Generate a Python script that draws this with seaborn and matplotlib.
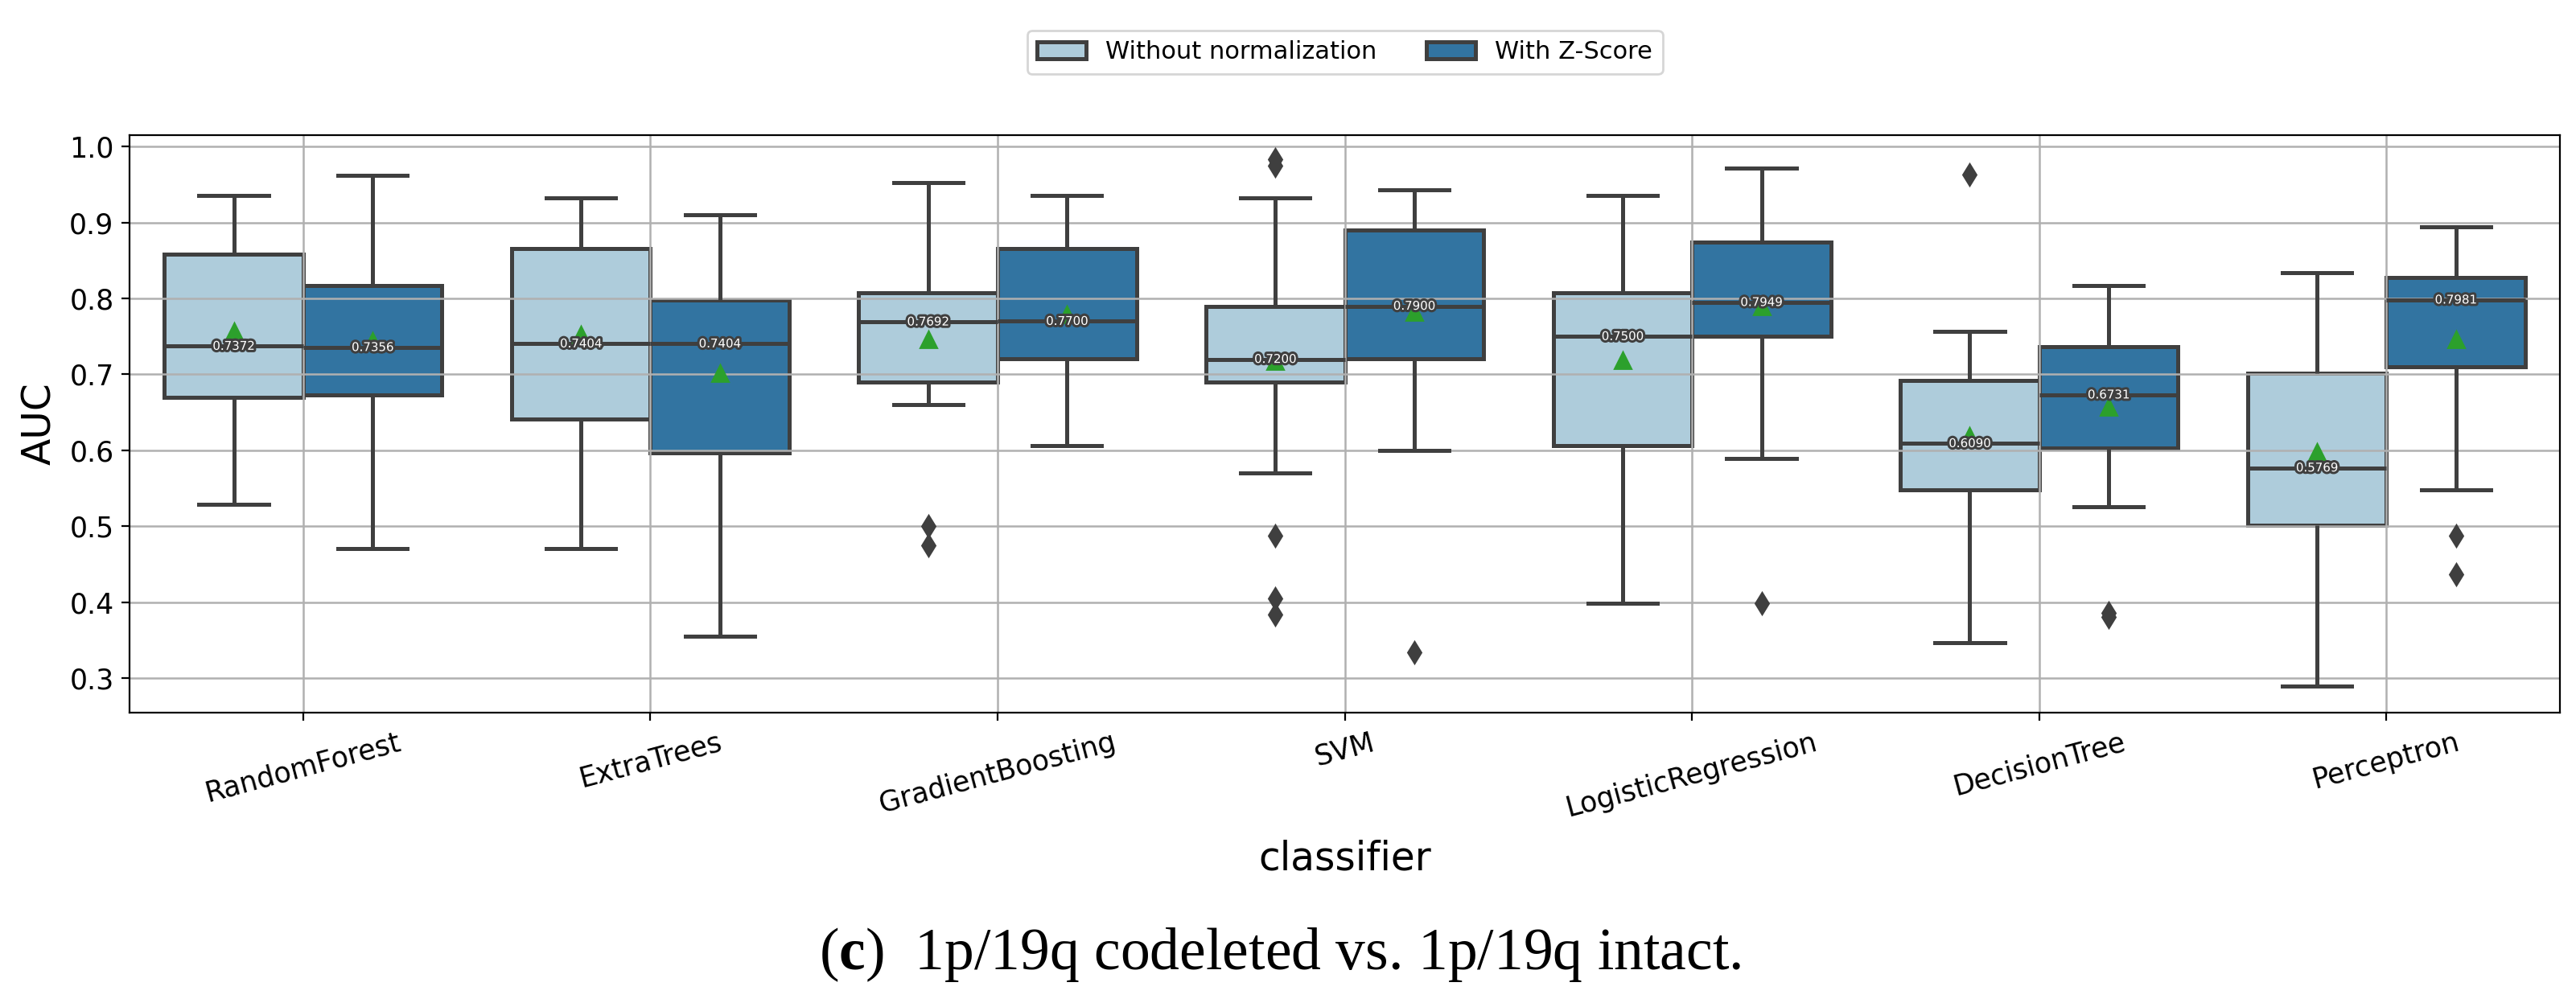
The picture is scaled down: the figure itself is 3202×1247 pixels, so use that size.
import pandas as pd
import seaborn as sns
import matplotlib.pyplot as plt
import matplotlib.patheffects as pe

# classificadores e normalizacoes
classifiers = ["RandomForest", "ExtraTrees", "GradientBoosting", "SVM",
               "LogisticRegression", "DecisionTree", "Perceptron"]
norms = ["Without normalization", "With Z-Score"]

# AUC por execucao
rf_raw = [0.529, 0.62, 0.66, 0.670, 0.70, 0.73, 0.7372, 0.79, 0.84, 0.8585, 0.87, 0.8938, 0.936]
rf_zs = [0.471, 0.58, 0.65, 0.673, 0.70, 0.72, 0.7356, 0.76, 0.79, 0.8172, 0.88, 0.9332, 0.962]
et_raw = [0.471, 0.60, 0.635, 0.641, 0.70, 0.73, 0.7404, 0.82, 0.86, 0.866, 0.88, 0.90, 0.9326]
et_zs = [0.3555, 0.52, 0.58, 0.5965, 0.66, 0.71, 0.7404, 0.76, 0.78, 0.7975, 0.84, 0.8735, 0.910]
gb_raw = [0.4751, 0.5004, 0.6605, 0.690, 0.74, 0.76, 0.7692, 0.78, 0.80, 0.808, 0.85, 0.9066, 0.953]
gb_zs = [0.6066, 0.66, 0.70, 0.7211, 0.74, 0.76, 0.7700, 0.79, 0.8173, 0.866, 0.87, 0.89, 0.936]
svm_raw = [0.384, 0.4052, 0.4878, 0.5703, 0.690, 0.70, 0.705, 0.715, 0.720,
           0.74, 0.76, 0.78, 0.790, 0.8511, 0.9326, 0.975, 0.983]
svm_zs = [0.3336, 0.600, 0.72, 0.7211, 0.78, 0.788, 0.790, 0.87, 0.885, 0.890, 0.92, 0.9256, 0.9427]
lr_raw = [0.3985, 0.55, 0.60, 0.6066, 0.70, 0.74, 0.750, 0.78, 0.80, 0.808, 0.82, 0.8527, 0.936]
lr_zs = [0.3985, 0.5897, 0.74, 0.7506, 0.77, 0.785, 0.7949, 0.83, 0.86, 0.8745, 0.93, 0.9624, 0.9714]
dt_raw = [0.3471, 0.45, 0.52, 0.5484, 0.56, 0.59, 0.609, 0.63, 0.66, 0.6925, 0.7205, 0.7565, 0.963]
dt_zs = [0.381, 0.386, 0.5257, 0.6032, 0.665, 0.672, 0.6731, 0.73, 0.736, 0.7363, 0.80, 0.815, 0.8172]
pc_raw = [0.289, 0.45, 0.49, 0.5013, 0.53, 0.56, 0.5769, 0.64, 0.68, 0.7018, 0.74, 0.781, 0.834]
pc_zs = [0.4364, 0.4878, 0.5484, 0.7102, 0.79, 0.795, 0.7981, 0.815, 0.825, 0.8273, 0.875, 0.8899, 0.8947]

raw_sets = [rf_raw, et_raw, gb_raw, svm_raw, lr_raw, dt_raw, pc_raw]
zs_sets = [rf_zs, et_zs, gb_zs, svm_zs, lr_zs, dt_zs, pc_zs]

rows = []
for clf, a, b in zip(classifiers, raw_sets, zs_sets):
    rows += [(clf, norms[0], v) for v in a]
    rows += [(clf, norms[1], v) for v in b]
df = pd.DataFrame(rows, columns=["classifier", "normalization", "AUC"])

plt.rcParams["mathtext.fontset"] = "custom"
plt.rcParams["mathtext.rm"] = "Liberation Serif"
plt.rcParams["mathtext.bf"] = "Liberation Serif:bold"

fig = plt.figure(figsize=(16.01, 6.235), dpi=200)
ax = fig.add_axes([0.0503, 0.2895, 0.9435, 0.5758])

lw = 1.8
sns.boxplot(data=df, x="classifier", y="AUC", hue="normalization",
            order=classifiers, hue_order=norms, palette="Paired",
            linecolor="#3f3f3f", linewidth=lw, showmeans=True,
            boxprops=dict(linewidth=lw),
            whiskerprops=dict(linewidth=lw),
            capprops=dict(linewidth=lw),
            medianprops=dict(linewidth=lw),
            meanprops=dict(marker="^", markerfacecolor="#2ca02c",
                           markeredgecolor="#2ca02c", markersize=7.5),
            flierprops=dict(marker="d", markerfacecolor="#3f3f3f",
                            markeredgecolor="#3f3f3f", markersize=6.5),
            ax=ax)

# grade por cima do preenchimento das caixas
for p in ax.patches:
    p.set_zorder(1)
ax.grid(True, color="#b0b0b0", linewidth=0.9)
ax.set_ylim(0.2545, 1.0152)

# rotulos das medianas
med = df.groupby(["classifier", "normalization"])["AUC"].median()
for i, clf in enumerate(classifiers):
    for j, nm in enumerate(norms):
        m = med[(clf, nm)]
        t = ax.text(i - 0.2 + 0.4 * j, m, f"{m:.4f}", ha="center", va="center",
                    color="white", fontsize=5.4, zorder=4)
        t.set_path_effects([pe.Stroke(linewidth=2.2, foreground="#3f3f3f"), pe.Normal()])

ax.tick_params(axis="x", labelsize=12.5, rotation=15)
ax.tick_params(axis="y", labelsize=12.5)
ax.set_xlabel("classifier", fontsize=17.5)
ax.xaxis.set_label_coords(0.5, -0.22)
ax.set_ylabel("AUC", fontsize=17.5)
ax.yaxis.set_label_coords(-0.029, 0.5)

sns.move_legend(ax, "center", bbox_to_anchor=(0.5, 1.1435), ncol=2,
                title=None, fontsize=11, frameon=True)

fig.text(0.4969, 0.0337, r"($\mathbf{c}$)  1p/19q codeleted vs. 1p/19q intact.",
         ha="center", va="baseline", family="Liberation Serif", fontsize=26.5)

fig.savefig("out.png", dpi=200)
